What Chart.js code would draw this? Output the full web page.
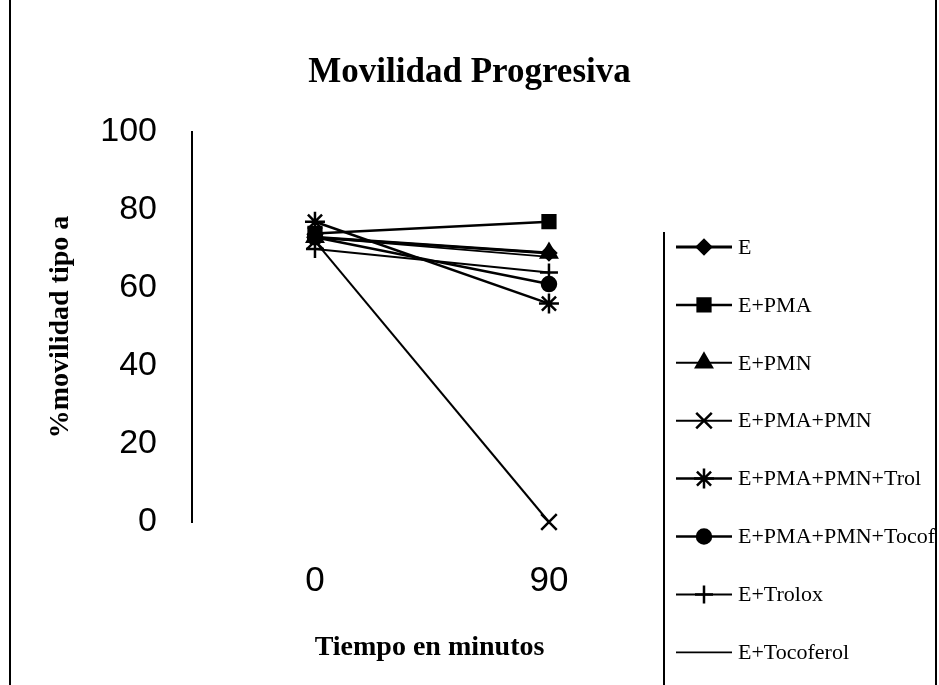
<!DOCTYPE html>
<html>
<head>
<meta charset="utf-8">
<title>Movilidad Progresiva</title>
<script src="https://cdn.jsdelivr.net/npm/chart.js@4.4.1/dist/chart.umd.min.js"></script>
<style>
  html, body { margin: 0; padding: 0; background: #fff; }
  #wrap { position: relative; width: 939px; height: 685px; }
</style>
</head>
<body>
<div id="wrap"><canvas id="chart" width="939" height="685"></canvas></div>
<script>
// x positions (minutes) and the tick labels shown
const minutes = [0, 90];
const timeTicks = [0, 90];

// series names, in legend order
const seriesNames = [
  "E", "E+PMA", "E+PMN", "E+PMA+PMN",
  "E+PMA+PMN+Trol", "E+PMA+PMN+Tocof", "E+Trolox", "E+Tocoferol"
];

// % movilidad tipo a
const valE = [73, 69];
const valPMA = [74, 77];
const valPMN = [73, 69];
const valPMAPMN = [72, 0];
const valTrol = [77, 56];
const valTocof = [73, 61];
const valTrolox = [70, 64];
const valTocoferol = [73, 68];

const yTicks = [0, 20, 40, 60, 80, 100];

// marker style per series
const markers = ["rectRot", "rect", "triangle", "crossRot", "star", "circle", "cross", false];
const markerSize = [7, 9, 9, 11, 10, 7, 9, 0];
const lineWidths = [3, 2.5, 2, 2, 2.5, 2.5, 2, 1.8];

const allValues = [valE, valPMA, valPMN, valPMAPMN, valTrol, valTocof, valTrolox, valTocoferol];

const datasets = seriesNames.map((name, i) => ({
  label: name,
  data: minutes.map((m, j) => ({ x: m, y: allValues[i][j] })),
  borderColor: "#000",
  backgroundColor: "#000",
  borderWidth: lineWidths[i],
  pointStyle: markers[i] || "circle",
  pointRadius: markerSize[i],
  pointBorderWidth: 2.5,
  pointBackgroundColor: "#000",
  pointBorderColor: "#000",
  tension: 0,
  fill: false,
  clip: false,
  order: seriesNames.length - i, // later series drawn on top, like the original
}));

// page frame + legend box borders
const framePlugin = {
  id: "frame",
  beforeDraw(chart) {
    const ctx = chart.ctx;
    ctx.save();
    ctx.fillStyle = "#fff";
    ctx.fillRect(0, 0, chart.width, chart.height);
    ctx.strokeStyle = "#000";
    ctx.lineWidth = 2;
    ctx.beginPath();
    ctx.moveTo(10, 0); ctx.lineTo(10, 685);
    ctx.moveTo(936, 0); ctx.lineTo(936, 685);
    ctx.moveTo(664, 232); ctx.lineTo(664, 685);
    ctx.stroke();
    ctx.restore();
  }
};

// legend with line + marker samples, drawn on the right
const legendPlugin = {
  id: "sideLegend",
  afterDraw(chart) {
    const ctx = chart.ctx;
    const top = 247, step = 57.9;
    ctx.save();
    chart.data.datasets.forEach((ds, i) => {
      const y = top + i * step;
      ctx.strokeStyle = "#000";
      ctx.lineWidth = ds.borderWidth;
      ctx.beginPath();
      ctx.moveTo(676, y);
      ctx.lineTo(732, y);
      ctx.stroke();
      if (markers[i]) {
        ctx.fillStyle = "#000";
        ctx.strokeStyle = "#000";
        ctx.lineWidth = 2.5;
        Chart.helpers.drawPoint(ctx, {
          pointStyle: markers[i], radius: markerSize[i], borderWidth: 2.5, rotation: 0
        }, 704, y);
      }
      ctx.fillStyle = "#000";
      ctx.font = "22px 'Liberation Serif'";
      ctx.textAlign = "left";
      ctx.textBaseline = "middle";
      ctx.fillText(ds.label, 738, y + 1);
    });
    ctx.restore();
  }
};

new Chart(document.getElementById("chart"), {
  type: "line",
  data: { datasets },
  plugins: [framePlugin, legendPlugin],
  options: {
    responsive: false,
    animation: false,
    layout: { padding: 0 },
    plugins: {
      legend: { display: false },
      tooltip: { enabled: false },
      title: {
        display: true,
        text: "Movilidad Progresiva",
        color: "#000",
        font: { family: "'Liberation Serif'", size: 35, weight: "bold" },
        padding: { top: 52, bottom: 38 },
      },
    },
    scales: {
      x: {
        type: "linear",
        min: -47.3,
        max: 135.4,
        afterBuildTicks: (axis) => { axis.ticks = timeTicks.map(v => ({ value: v })); },
        afterFit: (s) => { s.height = 163; },
        grid: { display: false, drawTicks: false },
        border: { display: false },
        ticks: {
          color: "#000",
          padding: 38,
          font: { family: "'Liberation Sans'", size: 35 },
          callback: (v) => String(v),
        },
        title: {
          display: true,
          text: "Tiempo en minutos",
          color: "#000",
          font: { family: "'Liberation Serif'", size: 28, weight: "bold" },
          padding: { top: 0, bottom: 20 },
        },
      },
      y: {
        min: 0,
        max: 100,
        afterBuildTicks: (axis) => { axis.ticks = yTicks.map(v => ({ value: v })); },
        afterFit: (s) => { s.width = 192; },
        grid: { display: false, drawTicks: false },
        border: { display: true, color: "#000", width: 2 },
        ticks: {
          color: "#000",
          padding: 35,
          font: { family: "'Liberation Sans'", size: 34 },
        },
        title: {
          display: true,
          text: "%movilidad tipo a",
          color: "#000",
          font: { family: "'Liberation Serif'", size: 28, weight: "bold" },
          padding: { top: 44, bottom: 0 },
        },
      },
      // empty right-hand box that reserves the legend column
      yRight: {
        position: "right",
        min: 0,
        max: 100,
        afterFit: (s) => { s.width = 272; },
        grid: { display: false, drawTicks: false },
        border: { display: false },
        ticks: { display: false },
      },
    },
  },
});
</script>
</body>
</html>
